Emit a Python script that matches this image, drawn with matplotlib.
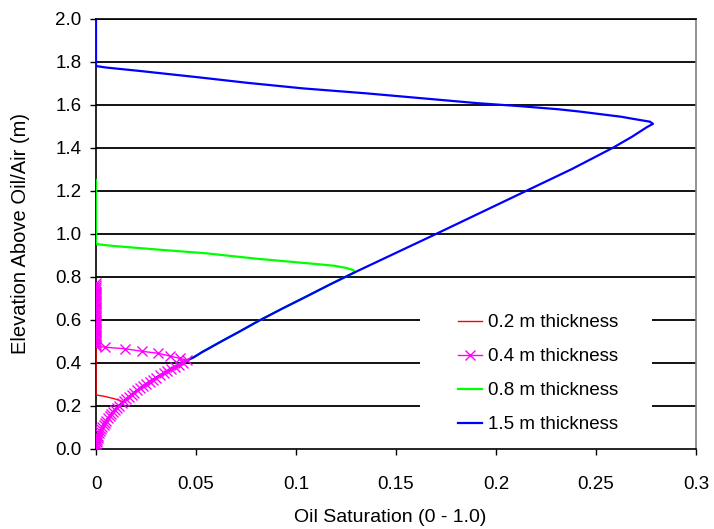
import matplotlib
matplotlib.use("Agg")
import matplotlib.pyplot as plt
from matplotlib.patches import Rectangle

plt.rcParams['font.family'] = ['Liberation Sans', 'DejaVu Sans']

# ---- data ----
labels = ["0.2 m thickness", "0.4 m thickness", "0.8 m thickness", "1.5 m thickness"]

# common lower branch (oil saturation vs elevation)
lower_x = [0.0, 0.00004, 0.00015, 0.00032, 0.00055, 0.00084, 0.00118, 0.00159, 0.00205, 0.00256,
           0.00313, 0.00375, 0.00442, 0.00515, 0.00592, 0.00676, 0.00764, 0.00858, 0.00955, 0.0106,
           0.01166, 0.0128, 0.01398, 0.0152, 0.0165, 0.0178, 0.0192, 0.0206, 0.0221, 0.0236,
           0.0252, 0.0268, 0.0285, 0.0302, 0.0320, 0.0338, 0.0356, 0.0375, 0.0395, 0.0415,
           0.0435, 0.0456]
lower_y = [0.00, 0.01, 0.02, 0.03, 0.04, 0.05, 0.06, 0.07, 0.08, 0.09,
           0.10, 0.11, 0.12, 0.13, 0.14, 0.15, 0.16, 0.17, 0.18, 0.19,
           0.20, 0.21, 0.22, 0.23, 0.24, 0.25, 0.26, 0.27, 0.28, 0.29,
           0.30, 0.31, 0.32, 0.33, 0.34, 0.35, 0.36, 0.37, 0.38, 0.39,
           0.40, 0.41]

# 0.2 m
red_top_x = [0.0137, 0.009, 0.004, 0.0, 0.0]
red_top_y = [0.217, 0.232, 0.243, 0.249, 0.470]

# 0.4 m
mag_top_x = [0.042, 0.037, 0.031, 0.023, 0.0145, 0.0045, 0.0,
             0.0, 0.0, 0.0, 0.0, 0.0, 0.0, 0.0, 0.0, 0.0, 0.0,
             0.0, 0.0, 0.0, 0.0, 0.0, 0.0, 0.0, 0.0, 0.0, 0.0,
             0.0, 0.0, 0.0, 0.0, 0.0, 0.0, 0.0, 0.0, 0.0, 0.0]
mag_top_y = [0.419, 0.430, 0.443, 0.452, 0.464, 0.471, 0.476,
             0.48, 0.49, 0.50, 0.51, 0.52, 0.53, 0.54, 0.55, 0.56, 0.57,
             0.58, 0.59, 0.60, 0.61, 0.62, 0.63, 0.64, 0.65, 0.66, 0.67,
             0.68, 0.69, 0.70, 0.71, 0.72, 0.73, 0.74, 0.75, 0.76, 0.77]

# lower leg shared by 0.8 m and 1.5 m
leg_x = [0.049, 0.053, 0.058, 0.064, 0.071, 0.081, 0.093, 0.105, 0.117, 0.1295]
leg_y = [0.425, 0.448, 0.474, 0.505, 0.540, 0.592, 0.650, 0.706, 0.763, 0.820]

# 0.8 m
green_top_x = [0.1285, 0.125, 0.119, 0.110, 0.092, 0.080, 0.055, 0.034, 0.0087, 0.0, 0.0]
green_top_y = [0.830, 0.840, 0.850, 0.858, 0.873, 0.883, 0.908, 0.923, 0.942, 0.951, 1.249]

# 1.5 m
blue_top_x = [0.150, 0.1705, 0.193, 0.2155, 0.238, 0.2587, 0.268, 0.2755, 0.2785, 0.277,
              0.2687, 0.2626, 0.242, 0.231, 0.211, 0.191, 0.163, 0.135, 0.1034, 0.0755,
              0.0517, 0.0219, 0.005, 0.0, 0.0]
blue_top_y = [0.910, 1.000, 1.100, 1.200, 1.300, 1.400, 1.450, 1.495, 1.510, 1.520,
              1.533, 1.543, 1.567, 1.578, 1.593, 1.606, 1.629, 1.652, 1.675, 1.701,
              1.726, 1.756, 1.772, 1.779, 2.000]

x_ticks = [0, 0.05, 0.1, 0.15, 0.2, 0.25, 0.3]
x_ticklabels = ["0", "0.05", "0.1", "0.15", "0.2", "0.25", "0.3"]
y_ticks = [0.0, 0.2, 0.4, 0.6, 0.8, 1.0, 1.2, 1.4, 1.6, 1.8, 2.0]
y_ticklabels = ["0.0", "0.2", "0.4", "0.6", "0.8", "1.0", "1.2", "1.4", "1.6", "1.8", "2.0"]

# ---- figure ----
fig = plt.figure(figsize=(7.14, 5.29), dpi=100)
ax = fig.add_axes([96 / 714, 1 - 448.5 / 529, 600 / 714, 430 / 529])

ax.set_xlim(0, 0.3)
ax.set_ylim(0, 2.0)

# horizontal gridlines
for yv in y_ticks[1:]:
    ax.axhline(yv, color='black', lw=1.3, zorder=1)

# legend background (white box covering gridlines)
ax.add_patch(Rectangle((0.54, 0.02), 0.387, 0.314, transform=ax.transAxes,
                       facecolor='white', edgecolor='none', zorder=2))

red_x = lower_x[:22] + red_top_x
red_y = lower_y[:22] + red_top_y
mag_x = lower_x + mag_top_x
mag_y = lower_y + mag_top_y
green_x = lower_x + leg_x + green_top_x
green_y = lower_y + leg_y + green_top_y
blue_x = lower_x + leg_x + blue_top_x
blue_y = lower_y + leg_y + blue_top_y

h1, = ax.plot(red_x, red_y, color='#FF0000', lw=1.0, zorder=3, label=labels[0])
h2, = ax.plot(mag_x, mag_y, color='#FF00FF', lw=1.0, marker='x', ms=6.5, mew=1.0,
              zorder=4, label=labels[1])
h3, = ax.plot(green_x, green_y, color='#00FF00', lw=1.6, zorder=3.5, label=labels[2])
h4, = ax.plot(blue_x, blue_y, color='#0000FF', lw=1.6, zorder=3.8, label=labels[3])

ax.set_xticks(x_ticks)
ax.set_xticklabels(x_ticklabels)
ax.set_yticks(y_ticks)
ax.set_yticklabels(y_ticklabels)
ax.tick_params(axis='x', direction='out', length=4.5, width=1, pad=15, labelsize=13.5, colors='black')
ax.tick_params(axis='y', direction='out', length=4.5, width=1, pad=6, labelsize=13.5, colors='black')

for side in ['left', 'bottom', 'top']:
    ax.spines[side].set_color('black')
    ax.spines[side].set_linewidth(1.2)
ax.spines['right'].set_color('#808080')
ax.spines['right'].set_linewidth(1.2)

ax.set_xlabel("Oil Saturation (0 - 1.0)", fontsize=14, va='center')
ax.set_ylabel("Elevation Above Oil/Air (m)", fontsize=14.5, va='center')
ax.xaxis.set_label_coords(0.49, (448.5 - 518) / 430)
ax.yaxis.set_label_coords((21 - 96) / 600, 0.5)

leg = ax.legend(handles=[h1, h2, h3, h4], loc='upper left',
                bbox_to_anchor=((458 - 96) / 600, (448.5 - 314) / 430),
                frameon=False, fontsize=13.5, handlelength=1.3, handletextpad=0.3,
                labelspacing=0.9, borderpad=0, borderaxespad=0, numpoints=1)
leg.set_zorder(5)

fig.savefig("out.png", dpi=100, facecolor='white')
